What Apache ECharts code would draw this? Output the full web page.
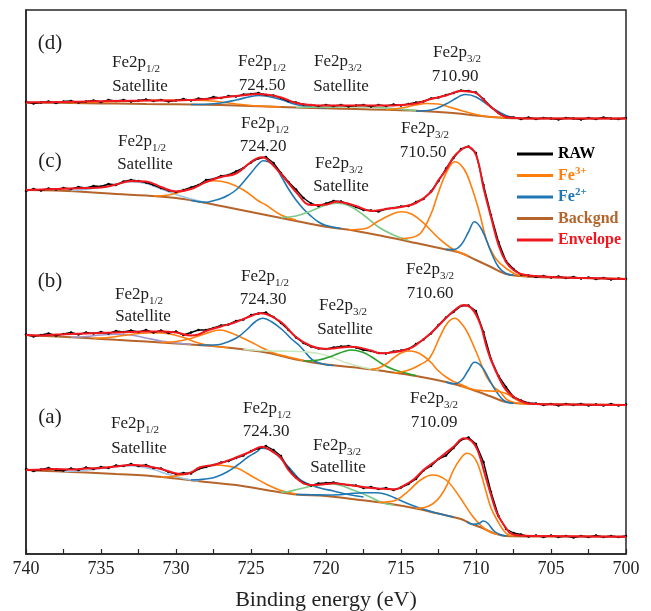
<!DOCTYPE html>
<html>
<head>
<meta charset="utf-8">
<title>Fe2p XPS</title>
<script src="https://cdn.jsdelivr.net/npm/echarts@6/dist/echarts.min.js"></script>
<style>
  html, body { margin: 0; padding: 0; background: #fff; }
  #chart { width: 651px; height: 611px; }
</style>
</head>
<body>
<div id="chart"></div>
<script>
// binding energy grid of the raw scans (eV)
const rawEnergy = [740, 739.5, 739, 738.5, 738, 737.5, 737, 736.5, 736, 735.5, 735, 734.5, 734, 733.5, 733, 732.5,
  732, 731.5, 731, 730.5, 730, 729.5, 729, 728.5, 728, 727.5, 727, 726.5, 726, 725.5, 725, 724.5, 724, 723.5,
  723, 722.5, 722, 721.5, 721, 720.5, 720, 719.5, 719, 718.5, 718, 717.5, 717, 716.5, 716, 715.5, 715, 714.5,
  714, 713.5, 713, 712.5, 712, 711.5, 711, 710.5, 710, 709.5, 709, 708.5, 708, 707.5, 707, 706.5, 706, 705.5,
  705, 704.5, 704, 703.5, 703, 702.5, 702, 701.5, 701, 700.5, 700];

// raw intensity (a.u., spectra stacked with offsets)
const rawD = [452, 450.5, 451.5, 452.5, 451, 452.5, 453, 451.5, 452.5, 453.5, 452, 454, 453, 454, 452.5, 453.5,
  454.5, 453, 454, 452.5, 453.5, 455, 453.5, 455.5, 455, 457, 456, 458, 457.5, 459.5, 460, 461, 459, 458.5,
  456, 453, 451.5, 449.5, 449, 448, 449, 448, 449, 447.5, 448.5, 449, 447.5, 449, 448, 449.5, 448.5, 450,
  451.5, 452.5, 455.5, 456.5, 459, 461, 463.5, 463, 461.5, 455, 447, 441, 437, 436.5, 435, 436.5, 435, 436,
  435.5, 434.5, 436, 435.5, 434.5, 436, 435, 436.5, 435.5, 435, 436];
const rawC = [363, 365, 363.5, 365.5, 364.5, 366, 365, 367, 366, 368, 367.5, 370, 369, 372.5, 374, 373,
  371.5, 369, 366, 363.5, 362, 364, 366.5, 369, 374, 375, 378, 379, 382.5, 386, 391.5, 395.5, 397, 391,
  381, 372, 364.5, 356, 350.5, 348, 350.5, 353, 352.5, 350, 347, 344, 343.5, 342.5, 345, 346, 347.5, 348,
  352, 355, 362.5, 373, 385.5, 396, 405, 407.5, 401, 369, 339, 312, 293, 285, 279.5, 278.5, 277, 278,
  276.5, 277.5, 276, 277, 275.5, 276.5, 275, 276, 274.5, 275.5, 275];
const rawB = [219.5, 217.5, 219, 220.5, 218.5, 220, 221.5, 219.5, 221.5, 220.5, 222, 220.5, 223, 222, 223.5, 222,
  224, 221.5, 223.5, 221, 222.5, 219, 221.5, 224, 224, 226, 228.5, 229.5, 233, 234.5, 239, 240.5, 241.5, 237,
  231, 224, 216.5, 211, 207.5, 205.5, 205, 206.5, 207.5, 208, 206.5, 204, 203, 201, 200.5, 202.5, 203.5, 205,
  210, 214.5, 220.5, 229, 236.5, 242, 248, 248.5, 243, 222, 195, 178, 167, 157, 153.5, 151, 150.5, 149,
  150, 148.5, 150, 149, 150, 148.5, 149.5, 148.5, 150, 148.5, 149.5];
const rawA = [85, 83, 84.5, 86, 84, 83.5, 85.5, 84, 86.5, 85, 87, 86, 88.5, 88, 90, 88,
  89, 86, 85.5, 82, 80, 81, 80.5, 85, 87, 89, 91.5, 93, 96, 98.5, 103, 105.5, 108, 104,
  98, 85, 76.5, 71, 68.5, 70.5, 71, 71.5, 70, 69, 68.5, 66, 67, 65, 66, 64, 66.5, 70,
  75, 83.5, 88, 95, 98.5, 106, 114, 116.5, 110, 92, 62, 38, 25, 21, 19.5, 17.5, 18.5, 17,
  18.5, 17, 18, 16.5, 18, 17, 18.5, 17, 18, 17, 18];

// fitted envelopes [eV, a.u.]
const envD = [[740, 451.5], [739, 451.7], [738, 452], [737, 452.2], [736, 452.5], [735, 452.8], [734, 453], [733, 453.2],
  [732, 453.4], [731, 453.5], [730, 453.5], [729, 454], [728, 455], [727, 456.2], [726, 458], [725, 459.5], [724.5, 460],
  [724, 459.5], [723, 456.5], [722, 451], [721, 449], [720, 448.5], [718, 448.5], [716, 448.5], [715, 449], [714, 450.5],
  [713, 455], [712, 458.5], [711, 463], [710.5, 462.5], [710, 461], [709, 447], [708, 437], [707, 435.8], [706, 435.5], [700, 435.5]];
const envC = [[740, 364], [739, 364.5], [738, 365], [737, 365.5], [736, 366], [735, 366.5], [734, 369.5], [733, 373],
  [732, 372.5], [731, 367], [730, 362.5], [729, 365], [728, 372], [727, 377], [726, 380.5], [725, 392], [724.3, 396.7],
  [724, 395.5], [723, 380], [722, 362], [721, 349], [720, 349.5], [719.3, 352.3], [718, 348], [717, 343], [716, 345],
  [715, 347], [714, 351], [713, 362], [712.5, 374], [712, 384], [711.5, 397], [711, 404], [710.6, 407.3], [710, 399],
  [709.5, 366], [709, 337], [708.5, 309], [708, 292], [707.5, 284], [707, 280], [706, 278], [705, 277], [703, 276], [700, 275]];
const envB = [[740, 219], [739, 218.5], [738, 219.5], [737, 220], [736, 220.5], [735, 221], [734, 221.5], [733, 222],
  [732, 222.5], [731, 222.5], [730, 221.5], [729, 218.5], [728.5, 219.5], [728, 223], [727, 227.5], [726, 232], [725, 238],
  [724.4, 240.7], [724, 240], [723, 232], [722, 217], [721, 208], [720, 205], [719, 206.5], [718.4, 207.3], [718, 207],
  [717, 203.5], [716.4, 200.7], [716, 201], [715, 203], [714.4, 205.7], [714, 209], [713, 221], [712, 236], [711.5, 243],
  [710.8, 249], [710.2, 244], [709.7, 229], [709.3, 207.3], [709, 194], [708.4, 174], [708, 164], [707.5, 157.3], [707, 153],
  [706.6, 150.7], [706, 150], [704, 149.5], [700, 149]];
const envA = [[740, 84], [739, 84.5], [738, 85], [737, 84.5], [736, 85.5], [735, 86], [734, 87.5], [733, 89], [732, 88],
  [731, 85], [730, 80.5], [729.5, 79.7], [729, 81.5], [728.4, 86.7], [727.5, 89], [727, 91], [726, 96.5], [725, 102.5],
  [724.3, 107.3], [723.4, 100.7], [723, 96], [722.5, 84], [722, 76], [721.5, 70.7], [721, 69], [720, 70], [719.5, 70.7],
  [719, 70], [718, 68], [717, 66], [716, 65], [715.3, 64.7], [715, 67], [714.2, 74], [713.5, 84], [712.6, 94], [711.5, 107.3],
  [710.8, 115.7], [710.3, 113], [709.9, 104], [709.3, 74], [709, 59], [708.6, 40.7], [708, 26], [707.7, 20.7], [707, 18.5],
  [706, 18], [700, 17.3]];

// Shirley backgrounds
const bgD = [[740, 451.5], [738, 451.2], [736, 450.8], [734, 450.4], [732, 450], [730, 449.7], [728, 449.2], [726, 448.5],
  [724, 447.5], [722, 446.5], [720, 445.7], [718, 445], [716, 444.2], [714, 443.2], [712, 441.5], [711, 440.2], [710, 438.5],
  [709, 437], [708, 436], [707, 435.6], [706, 435.5], [700, 435.5]];
const bgC = [[740, 364], [738, 363.5], [736, 362], [734, 360], [732, 358.5], [730, 356], [728, 351], [726, 345], [724, 339],
  [722, 333], [720, 327.3], [718, 323], [716, 317.3], [714, 311], [712, 304.5], [711, 301], [710, 294], [709, 287], [708, 280],
  [707, 278], [706, 277], [703, 276], [700, 275]];
const bgB = [[740, 219], [738, 217.5], [736, 216], [734, 214.2], [732, 212.5], [730, 210.5], [728, 208.5], [726, 205.5],
  [724, 201.5], [723, 198], [722, 194.5], [720, 189.5], [718, 186.5], [716, 182.5], [714, 178], [712, 172], [711, 168],
  [710, 163], [709, 157.5], [708, 152], [707, 150.5], [706, 150], [700, 149]];
const bgA = [[740, 84], [738, 82.7], [736, 81.5], [734, 80], [732, 78.5], [730, 75.5], [728, 72], [726, 69], [724, 64],
  [722, 59.5], [720, 58], [718, 54.5], [716, 50.7], [714, 45.5], [712.6, 40.7], [711, 35], [710.4, 30.7], [709.5, 25.5],
  [708.8, 20.7], [708, 18], [706, 17.5], [700, 17.3]];

// fitted components, (d)
const dFe3a = [[737, 451.2], [735, 452], [733, 453], [731, 453.8], [729.5, 454], [728, 453.5], [727, 452], [726, 450], [725, 448.5], [724, 447.6], [723, 447]];
const dFe2a = [[729, 449.5], [728, 449.7], [727, 451], [726, 454], [725, 457.5], [724.5, 458.5], [724, 458], [723, 454.5], [722, 449.5], [721, 447], [720, 446]];
const dSat = [[722, 446.5], [721, 446.8], [720, 446.9], [719, 447.2], [718, 447.3], [717, 447], [716, 446], [715, 444.8], [714, 443.4]];
const dFe3b = [[716, 444.2], [715, 446], [714, 449], [713.3, 450.5], [712.5, 450], [712, 448], [711, 443.5], [710, 439.5], [709, 437], [708, 436]];
const dFe2b = [[714, 443], [713, 444], [712, 450], [711.3, 456], [711, 458.5], [710.7, 459.5], [710, 457], [709, 447], [708, 438.5], [707, 435.7]];
// (c)
const cSatA = [[737, 363.5], [736, 364.5], [735, 367], [734, 370], [733, 372], [732, 370.5], [731, 365], [730, 359.5], [729, 355], [728, 351.5]];
const cFe3a = [[731.5, 358], [730.5, 359], [729.5, 363], [728.5, 369], [727.5, 373.3], [726.5, 371], [725.5, 364], [724.5, 353], [724, 349], [723, 339], [722, 334]];
const cFe2a = [[729, 353.8], [728, 351.8], [727.5, 353.3], [727, 355.5], [726.5, 359], [726, 364], [725.5, 372], [725, 381], [724.5, 390], [724.2, 393.3],
  [723.5, 389], [723, 378], [722.5, 365], [722, 354], [721.5, 345], [721, 338], [720.5, 332], [720, 328.5], [719, 325.5]];
const cSatB = [[723, 336.5], [722, 338], [721, 343], [720, 349], [719.3, 350.7], [718.5, 348.5], [717.5, 339], [716.5, 327], [715.5, 319], [714.5, 313.5]];
const cFe3b = [[718.5, 324.2], [717.5, 325], [716.5, 333], [715.5, 340.5], [715, 342.3], [714.3, 340], [713.5, 331], [712.5, 316], [711.5, 304.5], [710.5, 298]];
const cFe3c = [[715, 315.5], [714.3, 316.5], [713.7, 320.7], [713, 340], [712.6, 357.3], [712, 380.7], [711.4, 392.3], [710.8, 385], [710.3, 367.3],
  [709.8, 343], [709.3, 314], [708.8, 298], [708.4, 290.7], [707.5, 280.7], [707, 278.5], [706, 277]];
const cFe2b = [[712, 304.6], [711.5, 304.5], [711, 309], [710.5, 322], [710.1, 332.3], [709.6, 324], [709, 302], [708.5, 287], [708, 280.5], [707.5, 278.8]];
// (b)
const bSatA = [[737, 216.8], [736, 217.5], [735, 219], [734, 219.8], [733, 219], [732, 216], [731, 213], [730, 211], [729, 209.7]];
const bFe3a = [[735.5, 215.8], [734.5, 216.5], [733.5, 218.5], [732.5, 220.5], [731.5, 221.2], [730.5, 220.3], [729.5, 216.5], [728.5, 211], [727.5, 208], [726.5, 206.3]];
const bFe3b = [[731, 211.5], [730, 212.5], [729, 215.5], [728, 220.5], [727.1, 224], [726.5, 222], [726, 219], [725, 212], [724.4, 207.3], [723.5, 201], [722.5, 197], [721.5, 193.5]];
const bFe2a = [[728.5, 209], [727.5, 209], [727, 209.8], [726, 215.7], [725.3, 224], [724.7, 232.5], [724.2, 235.7], [723.6, 232], [722.9, 224], [722.3, 215],
  [721.7, 207.3], [720.9, 194], [720.2, 190], [719.5, 188.5]];
const bSatB = [[725.5, 204.5], [724.5, 203.5], [723.5, 203], [722.5, 202.8], [721.5, 202.3], [720.5, 200.5], [719.5, 196], [718.5, 190.5], [717.5, 186.5], [716.5, 184]];
const bSatC = [[721.5, 193], [720.5, 194], [719.5, 198.5], [718.8, 202.5], [718.3, 204], [717.6, 202], [717, 197.5], [716.2, 189.5], [715.5, 184.5], [714.7, 181], [714, 178.5]];
const bFe3c = [[717, 184.5], [716.5, 186], [716, 190], [715.5, 196], [715, 201], [714.5, 203], [714, 202], [713.5, 198], [713, 191.5], [712.5, 183], [712, 177],
  [711.5, 172.5], [711, 169.5], [710.5, 166]];
const bFe3d = [[715.5, 181], [714.9, 182.3], [714.3, 185], [713.7, 189.5], [713.1, 195.7], [712.4, 217.3], [711.9, 231], [711.4, 235.7], [711, 231], [710.6, 222.3],
  [709.9, 199], [709.3, 177.3], [708.8, 167], [708.4, 162.3], [707.9, 154], [707.3, 151], [706.5, 150]];
const bFe2b = [[712, 172], [711.5, 170.2], [711, 173], [710.5, 184], [710.1, 191.7], [709.6, 187], [709.1, 174], [708.6, 161.5], [708.1, 153], [707.5, 150.8]];
const bFe3e = [[711, 168], [710.5, 165.5], [710, 164], [709.5, 163.3], [709, 163], [708.5, 162.5], [708, 160.5], [707.5, 156], [707, 152], [706.5, 150.3]];
// (a)
const aSatA = [[737.5, 82.5], [736.5, 83], [735.5, 84.5], [734.5, 86.5], [733.5, 88], [733, 88.2], [732.5, 87.5], [731.5, 84.5], [730.5, 79.5], [729.5, 75.5], [728.5, 73]];
const aFe3a = [[731, 77], [730, 78], [729, 81.5], [728.3, 86], [727.4, 89], [726.6, 88], [725.9, 85.7], [725.3, 81], [724.7, 75.7], [724, 70], [723.1, 64], [722, 60]];
const aFe2a = [[729, 74], [728.4, 74.5], [727.8, 75.5], [727.3, 77.3], [726.6, 82], [725.9, 89], [725.2, 97], [724.6, 102.3], [724.3, 105.7], [723.8, 104.5],
  [723.4, 101], [722.8, 92], [722.2, 82], [721.7, 74], [721, 69], [720.4, 66], [719.5, 63], [718.5, 59.5], [717.5, 57]];
const aSatB = [[723, 62], [722.6, 62.3], [721.8, 65], [720.9, 68], [720.4, 69.3], [719.7, 70], [719, 68.5], [718.2, 64], [717.1, 57.3], [716.3, 51.5], [715.5, 49]];
const aFe2b = [[722, 59.5], [721, 59.3], [720, 59], [719.1, 59.3], [718.2, 60.7], [717.4, 61.3], [716.6, 61.3], [715.8, 58.5], [715.1, 54], [714.4, 49.5],
  [713.7, 45.7], [712.6, 40.8], [711.5, 37]];
const aFe3b = [[716.5, 51.8], [716, 52], [715.3, 54], [714.5, 63], [713.7, 74], [712.9, 79], [712, 74], [711.1, 57.3], [710.2, 37.3], [709.3, 24], [708.5, 19.5]];
const aFe3c = [[714, 45.8], [713.5, 46.3], [712.9, 50], [712.4, 57.3], [711.9, 70], [711.5, 84], [711, 96], [710.6, 100.7], [710.2, 98], [709.9, 90.7],
  [709.6, 77], [709.3, 60.7], [709, 46], [708.6, 34], [708, 20.7], [707.5, 18]];
const aFe2c = [[710.6, 32.2], [710.2, 29.7], [709.8, 30.5], [709.5, 33], [709.2, 30.5], [708.8, 23], [708.4, 19.5], [708, 18]];

const legendNames = ['RAW', 'Fe3+', 'Fe2+', 'Backgnd', 'Envelope'];

const FONT = '"Liberation Serif", "Times New Roman", serif';
const C_RAW = '#000000';
const C_FE3 = '#ff7f0e';
const C_FE2 = '#1f77b4';
const C_BG = '#b5652b';
const C_ENV = '#f2171f';
const C_GREEN = '#7cc98a';
const C_GREEN2 = '#2ca02c';
const C_LGREEN = '#c9e8bf';
const C_PURPLE = '#a096cc';
const C_LBLUE = '#9cc4e6';

const chart = echarts.init(document.getElementById('chart'));

function curve(name, data, color, width, z) {
  return {
    type: 'line', name: name, data: data, smooth: 0.4, symbol: 'none', z: z || 2,
    lineStyle: { color: color, width: width }, itemStyle: { color: color },
    emphasis: { disabled: true }, silent: true
  };
}
function rawCurve(values) {
  return {
    type: 'line', name: 'RAW', data: rawEnergy.map((e, i) => [e, values[i]]), z: 3,
    symbol: 'circle', symbolSize: 2.5, showSymbol: true,
    lineStyle: { color: C_RAW, width: 1.4 }, itemStyle: { color: C_RAW },
    emphasis: { disabled: true }, silent: true
  };
}

const series = [
  curve('Backgnd', bgD, C_BG, 2), curve('Backgnd', bgC, C_BG, 2),
  curve('Backgnd', bgB, C_BG, 2), curve('Backgnd', bgA, C_BG, 2),

  curve('Fe3+', dFe3a, C_FE3, 1.6), curve('Fe2+', dFe2a, C_FE2, 1.6), curve('sat-d', dSat, C_GREEN, 1.6),
  curve('Fe3+', dFe3b, C_FE3, 1.6), curve('Fe2+', dFe2b, C_FE2, 1.6),

  curve('sat-c1', cSatA, C_LBLUE, 1.6), curve('Fe3+', cFe3a, C_FE3, 1.6), curve('Fe2+', cFe2a, C_FE2, 1.6),
  curve('sat-c2', cSatB, C_GREEN, 1.6), curve('Fe3+', cFe3b, C_FE3, 1.6), curve('Fe3+', cFe3c, C_FE3, 1.6),
  curve('Fe2+', cFe2b, C_FE2, 1.6),

  curve('sat-b1', bSatA, C_PURPLE, 1.6), curve('Fe3+', bFe3a, C_FE3, 1.6), curve('Fe3+', bFe3b, C_FE3, 1.6),
  curve('Fe2+', bFe2a, C_FE2, 1.6), curve('sat-b2', bSatB, C_LGREEN, 1.6), curve('sat-b3', bSatC, C_GREEN2, 1.6),
  curve('Fe3+', bFe3c, C_FE3, 1.6), curve('Fe3+', bFe3d, C_FE3, 1.6), curve('Fe2+', bFe2b, C_FE2, 1.6),
  curve('Fe3+', bFe3e, C_FE3, 1.6),

  curve('sat-a1', aSatA, C_LBLUE, 1.6), curve('Fe3+', aFe3a, C_FE3, 1.6), curve('Fe2+', aFe2a, C_FE2, 1.6),
  curve('sat-a2', aSatB, C_GREEN, 1.6), curve('Fe2+', aFe2b, C_FE2, 1.6), curve('Fe3+', aFe3b, C_FE3, 1.6),
  curve('Fe3+', aFe3c, C_FE3, 1.6), curve('Fe2+', aFe2c, C_FE2, 1.6),

  rawCurve(rawD), rawCurve(rawC), rawCurve(rawB), rawCurve(rawA),

  curve('Envelope', envD, C_ENV, 2, 4), curve('Envelope', envC, C_ENV, 2, 4),
  curve('Envelope', envB, C_ENV, 2, 4), curve('Envelope', envA, C_ENV, 2, 4)
];

// peak annotations: text, centre x, centre y (px)
const TXT = '#1e1e1e';
const labelRich = {
  m: { fontSize: 17, fontFamily: FONT, lineHeight: 24, fill: TXT },
  s: { fontSize: 11, fontFamily: FONT, verticalAlign: 'bottom', fill: TXT },
  t: { fontSize: 21, fontFamily: FONT, lineHeight: 24, fill: TXT }
};
const annotations = [
  ['{t|(d)}', 50, 43], ['{m|Fe2p}{s|1/2}', 136, 63], ['{m|Satellite}', 140, 87],
  ['{m|Fe2p}{s|1/2}', 262, 62], ['{m|724.50}', 262, 86], ['{m|Fe2p}{s|3/2}', 338, 62], ['{m|Satellite}', 341, 87],
  ['{m|Fe2p}{s|3/2}', 457, 53], ['{m|710.90}', 455, 77],

  ['{t|(c)}', 50, 161], ['{m|Fe2p}{s|1/2}', 142, 142], ['{m|Satellite}', 145, 165],
  ['{m|Fe2p}{s|1/2}', 265, 124], ['{m|724.20}', 263, 147], ['{m|Fe2p}{s|3/2}', 339, 164], ['{m|Satellite}', 341, 187],
  ['{m|Fe2p}{s|3/2}', 425, 129], ['{m|710.50}', 423, 153],

  ['{t|(b)}', 50, 281], ['{m|Fe2p}{s|1/2}', 139, 295], ['{m|Satellite}', 143, 317],
  ['{m|Fe2p}{s|1/2}', 265, 277], ['{m|724.30}', 263, 300], ['{m|Fe2p}{s|3/2}', 343, 306], ['{m|Satellite}', 345, 330],
  ['{m|Fe2p}{s|3/2}', 430, 270], ['{m|710.60}', 430, 294],

  ['{t|(a)}', 50, 417], ['{m|Fe2p}{s|1/2}', 135, 424], ['{m|Satellite}', 139, 449],
  ['{m|Fe2p}{s|1/2}', 267, 409], ['{m|724.30}', 266, 432], ['{m|Fe2p}{s|3/2}', 337, 446], ['{m|Satellite}', 338, 468],
  ['{m|Fe2p}{s|3/2}', 434, 399], ['{m|710.09}', 434, 423]
];

const legendColors = { 'RAW': C_RAW, 'Fe3+': C_FE3, 'Fe2+': C_FE2, 'Backgnd': C_BG, 'Envelope': C_ENV };
function legendRich(color) {
  return {
    m: { fontSize: 16, fontFamily: FONT, fontWeight: 'bold', lineHeight: 20, color: color },
    s: { fontSize: 11, fontFamily: FONT, fontWeight: 'bold', verticalAlign: 'top', color: color }
  };
}

chart.setOption({
  animation: false,
  backgroundColor: '#ffffff',
  grid: {
    left: 26, right: 25, top: 10, bottom: 57, outerBoundsMode: 'none', containLabel: false,
    show: true, borderColor: '#262626', borderWidth: 1.5
  },
  xAxis: {
    type: 'value', min: 700, max: 740, interval: 5, inverse: true,
    axisLine: { lineStyle: { color: '#262626', width: 1.5 } },
    axisTick: { inside: true, length: 5, lineStyle: { color: '#262626', width: 1.2 } },
    minorTick: { show: true, splitNumber: 2, length: 5, lineStyle: { color: '#262626', width: 1.2 } },
    splitLine: { show: false },
    axisLabel: { color: '#222', fontSize: 18, fontFamily: FONT, margin: 6 },
    name: 'Binding energy (eV)', nameLocation: 'middle', nameGap: 35,
    nameTextStyle: { color: '#222', fontSize: 22, fontFamily: FONT }
  },
  yAxis: {
    type: 'value', min: 0, max: 544,
    axisLine: { show: true, lineStyle: { color: '#262626', width: 1.5 } },
    axisTick: { show: false }, axisLabel: { show: false }, splitLine: { show: false }
  },
  legend: {
    orient: 'vertical', left: 512, top: 139, itemWidth: 36, itemHeight: 3, itemGap: 1.5,
    icon: 'rect', selectedMode: false,
    data: legendNames.map(n => ({ name: n, textStyle: { color: legendColors[n], rich: legendRich(legendColors[n]) } })),
    formatter: function (name) {
      if (name === 'Fe3+') return '{m|Fe}{s|3+}';
      if (name === 'Fe2+') return '{m|Fe}{s|2+}';
      return '{m|' + name + '}';
    },
    textStyle: { fontSize: 16, fontFamily: FONT, fontWeight: 'bold', lineHeight: 20 }
  },
  graphic: annotations.map(a => ({
    type: 'text', x: a[1], y: a[2], silent: true,
    style: { text: a[0], rich: labelRich, align: 'center', verticalAlign: 'middle', fill: TXT, fontSize: 17, fontFamily: FONT }
  })),
  series: series
});
</script>
</body>
</html>
